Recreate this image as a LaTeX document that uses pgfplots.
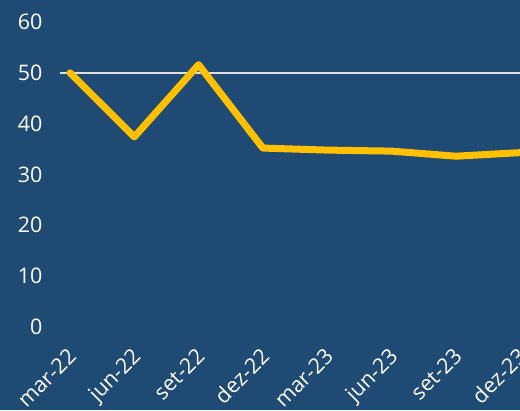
\documentclass[border=0pt]{standalone}
\usepackage{pgfplots}
\pgfplotsset{compat=1.18}
\usepackage{fontspec}
\setmainfont{Open Sans}
\definecolor{bg}{HTML}{1F4A73}
\definecolor{yel}{HTML}{FFC000}
\definecolor{ref}{HTML}{E0E0E0}
\begin{document}
\begin{tikzpicture}[x=1bp,y=1bp]
\clip (0,0) rectangle (520,410);
\fill[bg] (0,0) rectangle (520,410);
\begin{axis}[
  at={(60bp,83bp)}, anchor=south west,
  scale only axis, width=460bp, height=305bp,
  xmin=-0.156, xmax=7, ymin=0, ymax=60,
  axis line style={draw=none},
  tick style={draw=none},
  ytick={0,10,...,60},
  xtick={0,...,7},
  xticklabels={mar-22,jun-22,set-22,dez-22,mar-23,jun-23,set-23,dez-23},
  font=\fontsize{21.5}{25}\selectfont,
  ticklabel style={text=white},
  yticklabel style={xshift=-14bp},
  xticklabel style={rotate=45, anchor=north east, yshift=-8bp, xshift=-13bp},
  /pgf/number format/assume math mode=true,
  clip=false,
]
\addplot[ref, line width=1.5bp, forget plot] coordinates {(-0.156,50) (7,50)};
\addplot[yel, line width=7bp, line join=round, line cap=round] coordinates {
(0,50) (1,37.4) (2,51.6) (3,35.2) (4,34.8) (5,34.6) (6,33.6) (7,34.3)};
\end{axis}
\end{tikzpicture}
\end{document}
